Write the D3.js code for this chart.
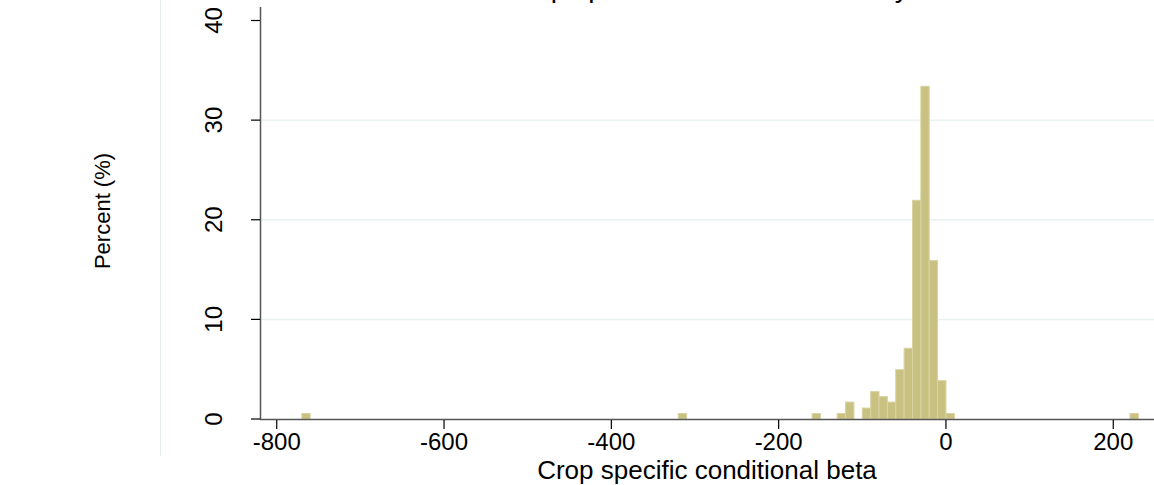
<!DOCTYPE html>
<html>
<head>
<meta charset="utf-8">
<script src="https://cdn.jsdelivr.net/npm/d3@7"></script>
<style>
  body { margin: 0; background: #fff; }
  text { font-family: "Liberation Sans", Arial, Helvetica, sans-serif; fill: #000; }
</style>
</head>
<body>
<script>
// Chart dimensions
const width = 1154;
const height = 485;

// Histogram data: left edge of each bin and the percent of observations in it
const binWidth = 10;
const binStart = [-770, -320, -160, -130, -120, -100, -90, -80, -70, -60, -50, -40, -30, -20, -10, 0, 220];
const percent  = [0.55, 0.55, 0.55, 0.55, 1.7, 1.1, 2.75, 2.25, 1.7, 4.95, 7.1, 21.95, 33.4, 15.9, 3.85, 0.55, 0.55];

// Tick labels
const xTicks = [-800, -600, -400, -200, 0, 200];
const yTicks = [0, 10, 20, 30, 40];
const gridTicks = [10, 20, 30];

// the title sits above the picture, only its descenders show
const titleText = "Distribution of crop specific conditional beta by state";
const xTitle = "Crop specific conditional beta";
const yTitle = "Percent (%)";

const svg = d3.select("body").append("svg")
    .attr("width", width)
    .attr("height", height)
    .attr("viewBox", [0, 0, width, height]);

svg.append("rect").attr("width", width).attr("height", height).attr("fill", "#fff");

// Scales
const x = d3.scaleLinear().domain([-820, 248.7]).range([260, 1154]);
const y = d3.scaleLinear().domain([0, 40]).range([419, 20.5]);

// Outer region border (faint)
svg.append("line")
    .attr("x1", 160.5).attr("x2", 160.5)
    .attr("y1", 0).attr("y2", 456)
    .attr("stroke", "#e6eef0").attr("stroke-width", 1);

// Gridlines
svg.append("g")
    .selectAll("line")
    .data(gridTicks)
    .join("line")
    .attr("x1", 260).attr("x2", width)
    .attr("y1", d => y(d)).attr("y2", d => y(d))
    .attr("stroke", "#eaf1f3").attr("stroke-width", 1.5);

// Bars
const bins = binStart.map((d, i) => ({ x0: d, x1: d + binWidth, pct: percent[i] }));

svg.append("g")
    .selectAll("rect")
    .data(bins)
    .join("rect")
    .attr("x", d => x(d.x0))
    .attr("width", d => x(d.x1) - x(d.x0))
    .attr("y", d => y(d.pct))
    .attr("height", d => y(0) - y(d.pct))
    .attr("fill", "#c9c181")
    .attr("stroke", "#d9d3a3")
    .attr("stroke-width", 1);

// X axis
const xAxis = svg.append("g");
xAxis.append("line")
    .attr("x1", 260).attr("x2", width)
    .attr("y1", 419.5).attr("y2", 419.5)
    .attr("stroke", "#555").attr("stroke-width", 1.5);
xAxis.selectAll(".tick")
    .data(xTicks)
    .join("line")
    .attr("x1", d => x(d)).attr("x2", d => x(d))
    .attr("y1", 420).attr("y2", 429)
    .attr("stroke", "#000").attr("stroke-width", 1.2);
xAxis.selectAll("text")
    .data(xTicks)
    .join("text")
    .attr("x", d => x(d))
    .attr("y", 450)
    .attr("text-anchor", "middle")
    .attr("font-size", 24)
    .text(d => d);

// Y axis
const yAxis = svg.append("g");
yAxis.append("line")
    .attr("x1", 260.5).attr("x2", 260.5)
    .attr("y1", 7).attr("y2", 420)
    .attr("stroke", "#555").attr("stroke-width", 1.5);
yAxis.selectAll(".tick")
    .data(yTicks)
    .join("line")
    .attr("x1", 251).attr("x2", 260)
    .attr("y1", d => y(d)).attr("y2", d => y(d))
    .attr("stroke", "#000").attr("stroke-width", 1.2);
yAxis.selectAll("text")
    .data(yTicks)
    .join("text")
    .attr("transform", d => `translate(222,${y(d)}) rotate(-90)`)
    .attr("text-anchor", "middle")
    .attr("font-size", 24)
    .text(d => d);

// Titles
svg.append("text")
    .attr("x", 333)
    .attr("y", -3)
    .attr("font-size", 28)
    .text(titleText);

svg.append("text")
    .attr("x", 707)
    .attr("y", 479)
    .attr("text-anchor", "middle")
    .attr("font-size", 26)
    .text(xTitle);

svg.append("text")
    .attr("transform", "translate(110,211) rotate(-90)")
    .attr("text-anchor", "middle")
    .attr("font-size", 22)
    .text(yTitle);
</script>
</body>
</html>
